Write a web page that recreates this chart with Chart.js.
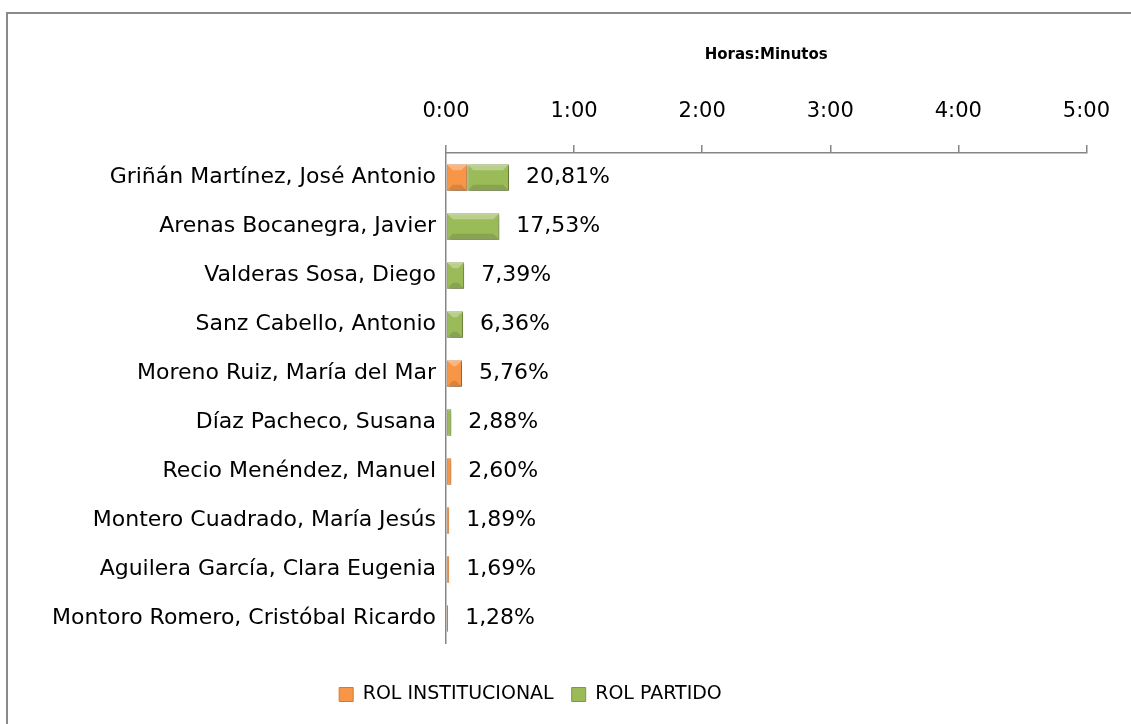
<!DOCTYPE html>
<html>
<head>
<meta charset="utf-8">
<title>Horas:Minutos</title>
<script src="https://cdn.jsdelivr.net/npm/chart.js@4/dist/chart.umd.min.js"></script>
<style>
  html, body { margin: 0; padding: 0; background: #fff; overflow: hidden; }
  #marco { position: absolute; left: 6px; top: 12px; width: 1140px; height: 730px; border: 2px solid #8a8a8a; box-sizing: border-box; }
  #caja { position: absolute; left: 0; top: 0; width: 1131px; height: 724px; }
</style>
</head>
<body>
<div id="marco"></div>
<div id="caja"><canvas id="chart1"></canvas></div>
<script>
// datos (minutos)
var categorias = [
	'Griñán Martínez, José Antonio',
	'Arenas Bocanegra, Javier',
	'Valderas Sosa, Diego',
	'Sanz Cabello, Antonio',
	'Moreno Ruiz, María del Mar',
	'Díaz Pacheco, Susana',
	'Recio Menéndez, Manuel',
	'Montero Cuadrado, María Jesús',
	'Aguilera García, Clara Eugenia',
	'Montoro Romero, Cristóbal Ricardo'
];
var rolInstitucional = [10, 0, 0, 0, 7.5, 0, 2.5, 1.5, 1.5, 1];
var rolPartido = [19.5, 25, 8.5, 8, 0, 2.5, 0, 0, 0, 0];
var porcentajes = ['20,81%', '17,53%', '7,39%', '6,36%', '5,76%', '2,88%', '2,60%', '1,89%', '1,69%', '1,28%'];
var horasTicks = ['0:00', '1:00', '2:00', '3:00', '4:00', '5:00'];

var fuente = 'DejaVu Sans';
var gris = '#868686';

// bisel, sombra y etiquetas de porcentaje
var extras = {
	id: 'extras',
	afterLayout: function(chart) {
		chart.legend.right -= 26; // leyenda algo a la izquierda
	},
	beforeDatasetsDraw: function(chart) {
		var ctx = chart.ctx;
		ctx.save();
		ctx.shadowColor = 'rgba(0,0,0,0.3)';
		ctx.shadowBlur = 4;
		ctx.shadowOffsetX = 2;
		ctx.shadowOffsetY = 2;
	},
	afterDatasetsDraw: function(chart) {
		var ctx = chart.ctx;
		ctx.restore();
		chart.data.datasets.forEach(function(ds, di) {
			chart.getDatasetMeta(di).data.forEach(function(bar) {
				var p = bar.getProps(['x', 'y', 'base', 'height'], true);
				var l = Math.min(p.base, p.x), r = Math.max(p.base, p.x);
				var w = r - l;
				if (w < 6) return;
				var t = p.y - p.height / 2, b = p.y + p.height / 2;
				var h = Math.min(6, w / 2);
				ctx.fillStyle = 'rgba(255,255,255,0.3)';
				ctx.beginPath();
				ctx.moveTo(l, t); ctx.lineTo(r, t); ctx.lineTo(r - h, t + h); ctx.lineTo(l + h, t + h);
				ctx.closePath(); ctx.fill();
				ctx.fillStyle = 'rgba(0,0,0,0.12)';
				ctx.beginPath();
				ctx.moveTo(l, b); ctx.lineTo(r, b); ctx.lineTo(r - h, b - h); ctx.lineTo(l + h, b - h);
				ctx.closePath(); ctx.fill();
			});
		});
		var xs = chart.scales.x, ys = chart.scales.y;
		ctx.save();
		ctx.font = '22px "' + fuente + '"';
		ctx.fillStyle = '#000';
		ctx.textAlign = 'left';
		ctx.textBaseline = 'middle';
		for (var i = 0; i < categorias.length; i++) {
			var total = rolInstitucional[i] + rolPartido[i];
			ctx.fillText(porcentajes[i], xs.getPixelForValue(total) + 17, ys.getPixelForValue(i));
		}
		ctx.restore();
	}
};

var ctx = document.getElementById('chart1').getContext('2d'),
	chart = new Chart(ctx, {
	type: 'bar',
	data: {
		labels: categorias,
		datasets: [{
			label: 'ROL INSTITUCIONAL',
			data: rolInstitucional,
			backgroundColor: '#f79646',
			borderColor: '#d9782c',
			borderWidth: 1,
			borderSkipped: false
		}, {
			label: 'ROL PARTIDO',
			data: rolPartido,
			backgroundColor: '#9bbb59',
			borderColor: '#7d9a3e',
			borderWidth: 1,
			borderSkipped: false
		}]
	},
	options: {
		indexAxis: 'y',
		responsive: true,
		maintainAspectRatio: false,
		animation: false,
		layout: { padding: { left: 0, right: 44, top: 40, bottom: 10 } },
		datasets: { bar: { barPercentage: 0.54, categoryPercentage: 1 } },
		scales: {
			x: {
				position: 'top',
				stacked: true,
				min: 0,
				max: 300,
				afterFit: function(s) { s.height = 113; },
				ticks: {
					stepSize: 60,
					padding: 21,
					color: '#000',
					font: { family: fuente, size: 21 },
					callback: function(v, i) { return horasTicks[i]; }
				},
				grid: { drawOnChartArea: false, drawTicks: true, tickLength: 8, color: gris, lineWidth: 1.5 },
				border: { color: gris, width: 1.5 },
				title: {
					display: true,
					text: 'Horas:Minutos',
					color: '#000',
					font: { family: fuente, size: 15, weight: 'bold' },
					padding: { top: 6, bottom: 0 }
				}
			},
			// espacio bajo el área del gráfico
			xb: {
				type: 'linear',
				axis: 'x',
				position: 'bottom',
				display: true,
				afterFit: function(s) { s.height = 24; },
				ticks: { display: false },
				grid: { display: false, drawTicks: false },
				border: { display: false }
			},
			y: {
				stacked: true,
				afterFit: function(s) { s.width = 446; },
				ticks: {
					padding: 10,
					color: '#000',
					font: { family: fuente, size: 22 }
				},
				grid: { display: false, drawTicks: false },
				border: { color: gris, width: 1.5 }
			}
		},
		plugins: {
			legend: {
				position: 'bottom',
				labels: {
					color: '#000',
					font: { family: fuente, size: 19 },
					boxWidth: 14,
					boxHeight: 14,
					padding: 18
				}
			},
			tooltip: { enabled: false }
		}
	},
	plugins: [extras]
});
</script>
</body>
</html>
